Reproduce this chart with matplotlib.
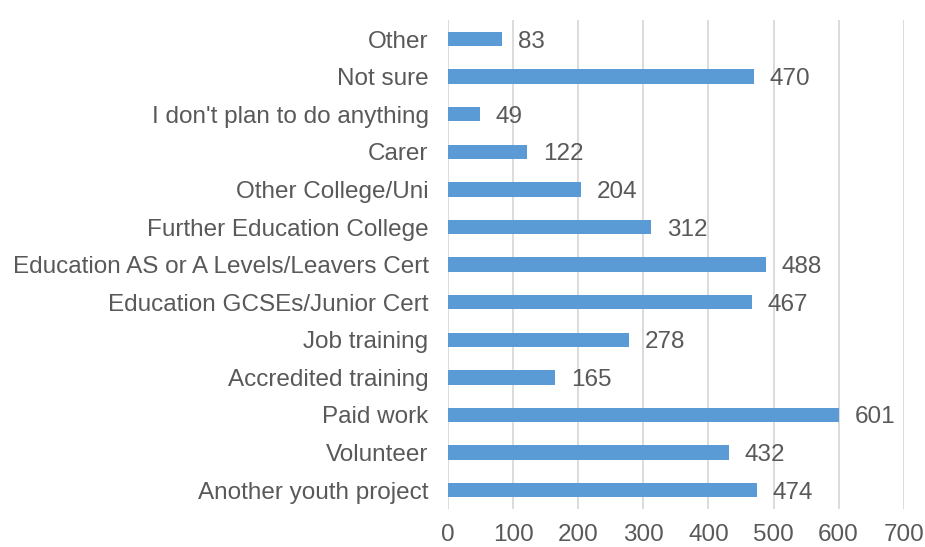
import matplotlib.pyplot as plt

categories = [
    'Another youth project', 'Volunteer', 'Paid work', 'Accredited training',
    'Job training', 'Education GCSEs/Junior Cert',
    'Education AS or A Levels/Leavers Cert', 'Further Education College',
    'Other College/Uni', 'Carer', "I don't plan to do anything", 'Not sure',
    'Other',
]
counts = [474, 432, 601, 165, 278, 467, 488, 312, 204, 122, 49, 470, 83]
xticks = [0, 100, 200, 300, 400, 500, 600, 700]

plt.rcParams['font.family'] = ['Liberation Sans', 'DejaVu Sans']
txt = '#595959'
fs = 17.5

fig = plt.figure(figsize=(9.25, 5.47), dpi=100)
ax = fig.add_axes([0.4843, 0.0695, 0.4927, 0.8935])

pos = range(len(categories))
ax.barh(pos, counts, height=0.38, color='#5B9BD5', zorder=3)
for y, v in zip(pos, counts):
    ax.text(v + 24, y, str(v), va='center_baseline', ha='left', fontsize=fs, color=txt)

ax.set_xlim(0, 700)
ax.set_ylim(-0.5, len(categories) - 0.5)
ax.set_xticks(xticks)
ax.set_yticks(list(pos))
ax.set_yticklabels(categories)
ax.tick_params(axis='both', length=0, labelsize=fs, labelcolor=txt)
ax.tick_params(axis='x', pad=11)
ax.tick_params(axis='y', pad=14)
ax.grid(axis='x', color='#D9D9D9', linewidth=1.3, zorder=0)
for s in ax.spines.values():
    s.set_visible(False)

fig.savefig('out.png', dpi=100)
